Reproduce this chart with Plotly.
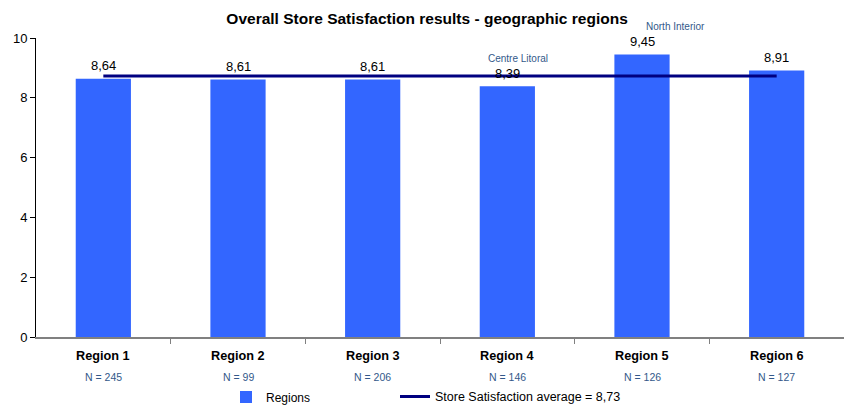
import plotly.graph_objects as go

regions = ["Region 1", "Region 2", "Region 3", "Region 4", "Region 5", "Region 6"]
scores = [8.64, 8.61, 8.61, 8.39, 9.45, 8.91]
sample_sizes = [245, 99, 206, 146, 126, 127]
store_average = 8.73
highlights = {3: "Centre Litoral", 4: "North Interior"}
highlight_offsets = {3: 11, 4: 33}

FONT = "Liberation Sans, Arial, sans-serif"
BAR_BLUE = "#3366FF"
NAVY = "#000080"
LABEL_BLUE = "#33598A"

x_pos = list(range(len(regions)))

def fmt(v):
    return f"{v:.2f}".replace(".", ",")

fig = go.Figure()

fig.add_trace(go.Bar(
    x=x_pos, y=scores, name="Regions",
    marker=dict(color=BAR_BLUE, line=dict(width=0)),
    width=0.41, legend="legend",
))

fig.add_trace(go.Scatter(
    x=[x_pos[0], x_pos[-1]], y=[store_average, store_average],
    mode="lines", name=f"Store Satisfaction average = {fmt(store_average)}",
    line=dict(color=NAVY, width=3), legend="legend2",
))

annotations = []
for i, (r, v, n) in enumerate(zip(regions, scores, sample_sizes)):
    # value label above each bar
    annotations.append(dict(
        x=i, y=v, xref="x", yref="y", text=fmt(v), showarrow=False,
        yshift=13, font=dict(family=FONT, size=13, color="#000000"),
    ))
    # category name and sample size under the axis
    annotations.append(dict(
        x=i, y=0, xref="x", yref="y", text=f"<b>{r}</b>", showarrow=False,
        yshift=-19, font=dict(family=FONT, size=12.7, color="#000000"),
    ))
    annotations.append(dict(
        x=i, y=0, xref="x", yref="y", text=f"N = {n}", showarrow=False,
        yshift=-40, font=dict(family=FONT, size=10.5, color=LABEL_BLUE),
    ))
    if i in highlights:
        annotations.append(dict(
            x=i, y=v, xref="x", yref="y", text=highlights[i], showarrow=False,
            yshift=28, xshift=highlight_offsets[i],
            font=dict(family=FONT, size=10, color=LABEL_BLUE),
        ))

legend_common = dict(
    orientation="h", yref="container", y=0.02, yanchor="middle",
    xref="container", xanchor="left",
    bgcolor="rgba(0,0,0,0)", borderwidth=0,
)

fig.update_layout(
    width=844, height=405,
    margin=dict(l=36, r=0, t=38, b=68, autoexpand=False),
    paper_bgcolor="white", plot_bgcolor="white",
    font=dict(family=FONT, size=12, color="#000000"),
    title=dict(
        text="<b>Overall Store Satisfaction results - geographic regions</b>",
        x=0.506, xanchor="center", y=0.953, yanchor="middle",
        font=dict(family=FONT, size=15.5, color="#000000"),
    ),
    showlegend=True,
    legend=dict(x=226 / 844, font=dict(family=FONT, size=12, color="#000000"),
                **legend_common),
    legend2=dict(x=395 / 844, font=dict(family=FONT, size=12.5, color="#000000"),
                 **legend_common),
    annotations=annotations,
)

fig.update_xaxes(
    range=[-0.5, len(regions) - 0.5],
    tickvals=[i + 0.5 for i in range(len(regions) - 1)],
    ticktext=[""] * (len(regions) - 1),
    ticks="outside", ticklen=5, tickcolor="#808080", tickwidth=1,
    showline=True, linecolor="#808080", linewidth=2,
    showgrid=False, zeroline=False, fixedrange=True,
)

fig.update_yaxes(
    range=[0, 10], dtick=2,
    ticks="outside", ticklen=5, tickcolor="#000000",
    showline=True, linecolor="#000000", linewidth=1,
    showgrid=False, zeroline=False,
    tickfont=dict(family=FONT, size=13),
)

fig.write_html("out.html")
